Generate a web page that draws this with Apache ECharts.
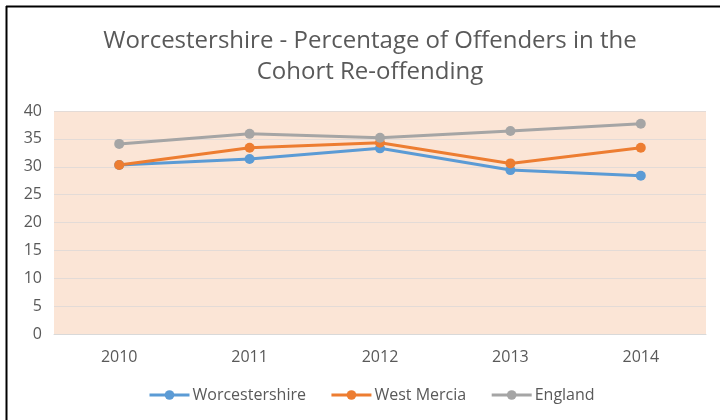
<!DOCTYPE html>
<html>
<head>
<meta charset="utf-8">
<script src="https://cdn.jsdelivr.net/npm/echarts@6/dist/echarts.min.js"></script>
<style>
  html, body { margin: 0; padding: 0; background: #fff; }
  #chart { width: 720px; height: 420px; }
</style>
</head>
<body>
<div id="chart"></div>
<script>
// Re-offending rates (%) by cohort year
const years = ['2010', '2011', '2012', '2013', '2014'];
const worcestershire = [30.3, 31.4, 33.3, 29.4, 28.4];
const westMercia = [30.3, 33.4, 34.3, 30.6, 33.4];
const england = [34.1, 35.9, 35.2, 36.4, 37.7];
const seriesNames = ['Worcestershire', 'West Mercia', 'England'];
const yTicks = { min: 0, max: 40, interval: 5 };

const FONT = 'Open Sans';
const TEXT = '#595959';
const colors = ['#5B9BD5', '#ED7D31', '#A5A5A5'];

function lineSeries(name, data, color) {
  return {
    name: name,
    type: 'line',
    data: data,
    symbol: 'circle',
    symbolSize: 10,
    z: 3,
    lineStyle: { color: color, width: 3 },
    itemStyle: { color: color },
    emphasis: { disabled: true }
  };
}

const chart = echarts.init(document.getElementById('chart'), null, { renderer: 'canvas' });
chart.setOption({
  animation: false,
  backgroundColor: '#ffffff',
  title: {
    text: 'Worcestershire - Percentage of Offenders in the\nCohort Re-offending',
    left: 365,
    top: 21,
    textAlign: 'center',
    textStyle: { fontFamily: FONT, fontSize: 24, fontWeight: 'normal', color: TEXT, lineHeight: 31 }
  },
  legend: {
    data: seriesNames,
    bottom: 12,
    left: 143,
    itemWidth: 40,
    itemHeight: 12,
    itemGap: 24,
    lineStyle: { width: 3 },
    textStyle: { fontFamily: FONT, fontSize: 16, color: TEXT, padding: [0, 0, 0, -2] }
  },
  grid: {
    left: 54, right: 14, top: 111, bottom: 86,
    show: true,
    backgroundColor: '#FBE5D6',
    borderWidth: 0
  },
  xAxis: {
    type: 'category',
    data: years,
    boundaryGap: true,
    axisLine: { show: true, lineStyle: { color: '#D9D9D9', width: 1 } },
    axisTick: { show: false },
    axisLabel: { fontFamily: FONT, fontSize: 16, color: TEXT, margin: 15 }
  },
  yAxis: {
    type: 'value',
    min: yTicks.min,
    max: yTicks.max,
    interval: yTicks.interval,
    axisLine: { show: false },
    axisTick: { show: false },
    splitLine: { lineStyle: { color: '#E3DBD7', width: 1 } },
    axisLabel: { fontFamily: FONT, fontSize: 16, color: TEXT, margin: 12 }
  },
  series: [
    lineSeries(seriesNames[0], worcestershire, colors[0]),
    lineSeries(seriesNames[1], westMercia, colors[1]),
    lineSeries(seriesNames[2], england, colors[2])
  ],
  graphic: [
    { type: 'line', shape: { x1: 6, y1: 6.5, x2: 720, y2: 6.5 }, style: { stroke: '#000', lineWidth: 2 } },
    { type: 'line', shape: { x1: 6.5, y1: 6, x2: 6.5, y2: 420 }, style: { stroke: '#000', lineWidth: 2 } }
  ]
});
</script>
</body>
</html>
